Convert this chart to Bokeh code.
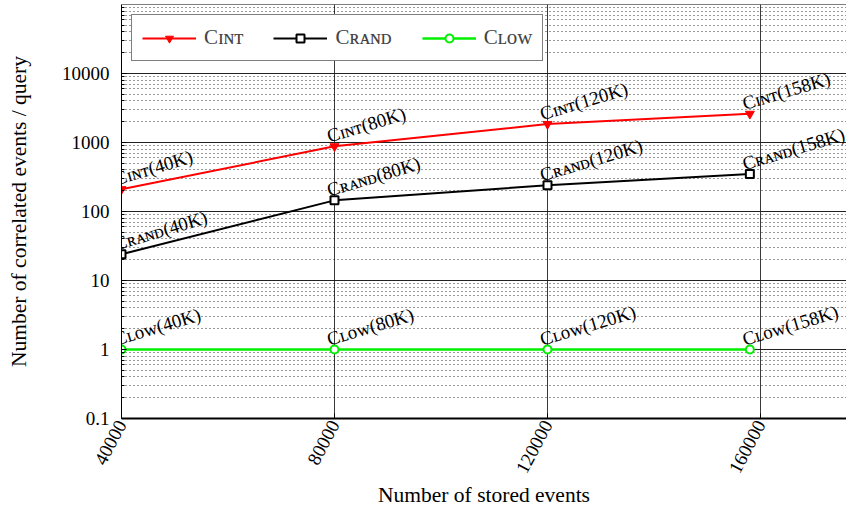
import math
from bokeh.plotting import figure
from bokeh.models import (ColumnDataSource, FixedTicker, Legend, LegendItem,
                          Span, Range1d)
from bokeh.core.properties import value
from bokeh.embed import file_html
from bokeh.resources import INLINE

# ---------------- data ----------------
stored_events = [40000, 80000, 120000, 158000]
size_labels = ["40K", "80K", "120K", "158K"]
c_int = [210, 880, 1850, 2600]
c_rand = [24, 145, 240, 350]
c_low = [1, 1, 1, 1]
series_names = ["C\u026a\u0274\u1d1b", "C\u0280\u1d00\u0274\u1d05", "C\u029f\u1d0f\u1d21"]
x_ticks = [40000, 80000, 120000, 160000]
x_tick_labels = ["40000", "80000", "120000", "160000"]
y_ticks = [0.1, 1, 10, 100, 1000, 10000]
y_tick_labels = ["0.1", "1", "10", "100", "1000", "10000"]
x_label = "Number of stored events"
y_label = "Number of correlated events / query"

SERIF = "Liberation Serif"
x_start, x_end = 40000, 176150
y_start, y_end = 0.1, 100000

p = figure(width=846, height=509, output_backend="svg", toolbar_location=None,
           x_range=Range1d(x_start, x_end), y_range=Range1d(y_start, y_end),
           y_axis_type="log", min_border_left=121, min_border_right=0,
           min_border_top=4, min_border_bottom=89)
p.outline_line_color = None
p.background_fill_color = "white"
p.border_fill_color = "white"

# ---------------- axes ----------------
xt = FixedTicker(ticks=x_ticks)
minor_y = [m * 10.0 ** e for e in range(-1, 5) for m in range(2, 10)]
yt = FixedTicker(ticks=y_ticks, minor_ticks=minor_y)
p.xaxis.ticker = xt
p.yaxis.ticker = yt
p.xaxis.major_label_overrides = {t: l for t, l in zip(x_ticks, x_tick_labels)}
p.yaxis.major_label_overrides = {t: l for t, l in zip(y_ticks, y_tick_labels)}

for ax in (p.xaxis, p.yaxis):
    ax.major_label_text_font = SERIF
    ax.major_label_text_font_size = "19px"
    ax.major_label_text_color = "black"
    ax.axis_label_text_font = SERIF
    ax.axis_label_text_font_size = "21.5px"
    ax.axis_label_text_font_style = "normal"
    ax.axis_label_text_color = "black"
    ax.axis_line_color = "black"
    ax.major_tick_in = 5
    ax.major_tick_out = 0
    ax.major_tick_line_color = "black"

p.xaxis.axis_label = x_label
p.yaxis.axis_label = y_label
p.xaxis.axis_line_width = 2
p.xaxis.major_label_orientation = math.radians(62)
p.xaxis.major_label_standoff = 3
p.xaxis.axis_label_standoff = 2
p.xaxis.minor_tick_line_color = None
p.yaxis.axis_line_width = 1
p.yaxis.minor_tick_in = 3
p.yaxis.minor_tick_out = 0
p.yaxis.minor_tick_line_color = "black"
p.yaxis.major_label_standoff = 12
p.yaxis.axis_label_standoff = 28

# ---------------- grid ----------------
p.xgrid.ticker = xt
p.xgrid.grid_line_color = "#3a3a3a"
p.xgrid.grid_line_width = 1
p.ygrid.ticker = yt
p.ygrid.grid_line_color = "#222222"
p.ygrid.grid_line_width = 1
p.ygrid.minor_grid_line_color = "black"
p.ygrid.minor_grid_line_dash = "1 3"
p.ygrid.minor_grid_line_alpha = 0.8

p.add_layout(Span(location=y_end, dimension="width", line_color="black", line_width=1))

# ---------------- series ----------------
src = ColumnDataSource(dict(x=stored_events, c_int=c_int, c_rand=c_rand, c_low=c_low))

l1 = p.line("x", "c_int", source=src, line_color="#ff0000", line_width=2)
s1 = p.scatter("x", "c_int", source=src, marker="inverted_triangle", size=9,
               fill_color="#ff0000", line_color="#ff0000")
l2 = p.line("x", "c_rand", source=src, line_color="black", line_width=2)
s2 = p.scatter("x", "c_rand", source=src, marker="square", size=8,
               fill_color="white", line_color="black", line_width=2)
l3 = p.line("x", "c_low", source=src, line_color="#00f000", line_width=2.5)
s3 = p.scatter("x", "c_low", source=src, marker="circle", size=8,
               fill_color="white", line_color="#00f000", line_width=2)

# ---------------- point labels ----------------
lab_x, lab_y, lab_t = [], [], []
for name, vals in zip(series_names, [c_int, c_rand, c_low]):
    for xv, yv, s in zip(stored_events, vals, size_labels):
        lab_x.append(xv)
        lab_y.append(yv)
        lab_t.append(f"{name}({s})")
lab_src = ColumnDataSource(dict(x=lab_x, y=lab_y, text=lab_t))
p.text("x", "y", text="text", source=lab_src, angle=0.29,
       text_font=value(SERIF), text_font_size="19px", text_color="black",
       text_align="left", text_baseline="alphabetic", x_offset=-7, y_offset=-10)

# ---------------- legend ----------------
legend = Legend(items=[LegendItem(label=series_names[0], renderers=[l1, s1]),
                       LegendItem(label=series_names[1], renderers=[l2, s2]),
                       LegendItem(label=series_names[2], renderers=[l3, s3])],
                orientation="horizontal", location="top_left")
legend.margin = 10
legend.border_line_color = "black"
legend.border_line_width = 1
legend.background_fill_alpha = 1
legend.label_text_font = SERIF
legend.label_text_font_size = "21px"
legend.glyph_width = 54
legend.label_standoff = 8
legend.spacing = 30
legend.padding = 10
p.add_layout(legend)

open("out.html", "w").write(file_html(p, INLINE))
